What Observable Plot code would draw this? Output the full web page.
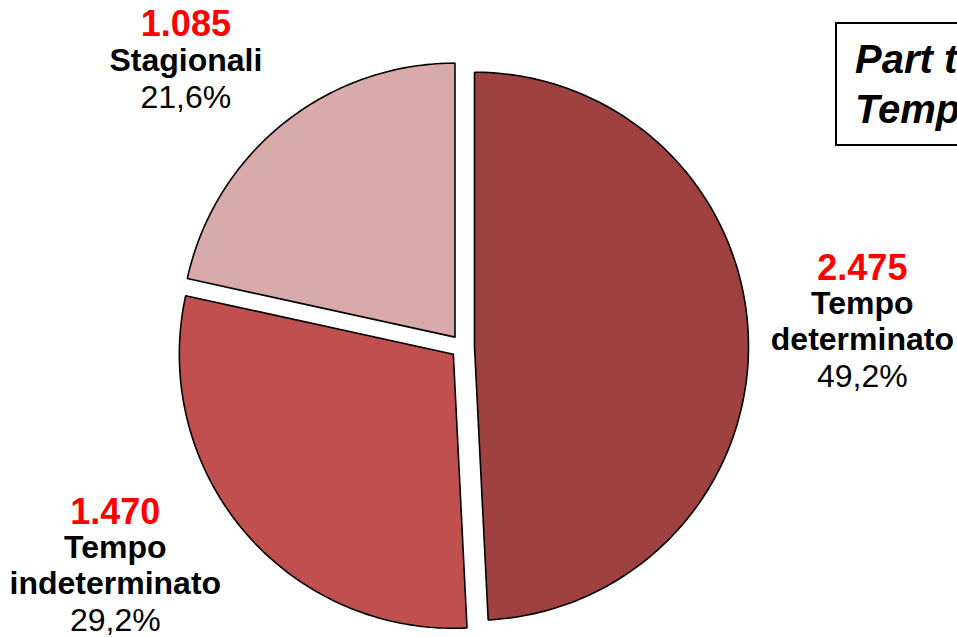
<!DOCTYPE html>
<html><head><meta charset="utf-8">
<script src="https://cdn.jsdelivr.net/npm/d3@7"></script>
<script src="https://cdn.jsdelivr.net/npm/@observablehq/plot@0.6"></script>
<style>
body{margin:0;background:#fff;}
#wrap{position:relative;width:957px;height:637px;overflow:hidden;font-family:"Liberation Sans",Arial,sans-serif;}
#box{position:absolute;left:835px;top:22px;width:240px;height:124px;border:2px solid #000;background:#fff;
 font-weight:bold;font-style:italic;font-size:40px;line-height:50px;padding:10px 0 0 18px;box-sizing:border-box;white-space:nowrap;}
</style></head>
<body><div id="wrap"><div id="chart"></div><div id="box">Part time<br>Tempo</div></div>
<script>
// ---- data ----
const categories = ["Tempo determinato", "Tempo indeterminato", "Stagionali"];
const values = [2475, 1470, 1085];
const valueLabels = ["2.475", "1.470", "1.085"];
const shareLabels = ["49,2%", "29,2%", "21,6%"];
const nameLines = [["Tempo", "determinato"], ["Tempo", "indeterminato"], ["Stagionali"]];
const colors = ["#9E4140", "#C0504D", "#D9AAAA"];

// ---- layout ----
const W = 957, H = 637, CX = 462, CY = 346, R = 274;
const explode = 12 / R;
const labelDist = [1.462, 1.500, 1.450];
const labelTurn = [-2, 7.9, -5.3]; // degrees
const gapValue = 36, gapName = 36, gapPct = 37;

const arcs = d3.pie().sort(null)(values);
const slices = [];
const rows = [];
arcs.forEach((a, i) => {
  const name = categories[i];
  const mid = (a.startAngle + a.endAngle) / 2;
  const ox = explode * Math.sin(mid), oy = explode * Math.cos(mid);
  const n = Math.max(2, Math.ceil((a.endAngle - a.startAngle) / (Math.PI / 180)));
  slices.push({name, x: ox, y: oy});
  for (let k = 0; k <= n; k++) {
    const t = a.startAngle + (a.endAngle - a.startAngle) * k / n;
    slices.push({name, x: ox + Math.sin(t), y: oy + Math.cos(t)});
  }
  slices.push({name, x: ox, y: oy});
  // label block
  const la = mid + labelTurn[i] * Math.PI / 180;
  const bx = labelDist[i] * Math.sin(la), by = labelDist[i] * Math.cos(la);
  const lines = [{text: valueLabels[i], kind: "value"}]
    .concat(nameLines[i].map(t => ({text: t, kind: "name"})))
    .concat([{text: shareLabels[i], kind: "pct"}]);
  let offs = [0];
  for (let j = 1; j < lines.length; j++) {
    const g = j === 1 ? gapValue : (j === lines.length - 1 ? gapPct : gapName);
    offs.push(offs[j - 1] + g);
  }
  const span = offs[offs.length - 1];
  lines.forEach((l, j) => rows.push({...l, x: bx, y: by - (offs[j] - span / 2) / R}));
});

const chart = Plot.plot({
  width: W, height: H, margin: 0,
  style: {fontFamily: '"Liberation Sans", Arial, sans-serif', background: "white"},
  x: {domain: [-CX / R, (W - CX) / R], axis: null},
  y: {domain: [-(H - CY) / R, CY / R], axis: null},
  color: {domain: categories, range: colors},
  marks: [
    Plot.line(slices, {x: "x", y: "y", z: "name", fill: "name", stroke: "black", strokeWidth: 1.6, strokeLinejoin: "miter"}),
    Plot.text(rows.filter(d => d.kind === "value"), {x: "x", y: "y", text: "text", fill: "#FF0000", fontWeight: "bold", fontSize: 36}),
    Plot.text(rows.filter(d => d.kind === "name"), {x: "x", y: "y", text: "text", fill: "black", fontWeight: "bold", fontSize: 32}),
    Plot.text(rows.filter(d => d.kind === "pct"), {x: "x", y: "y", text: "text", fill: "black", fontSize: 32})
  ]
});
document.getElementById("chart").appendChild(chart);
</script>
</body></html>
